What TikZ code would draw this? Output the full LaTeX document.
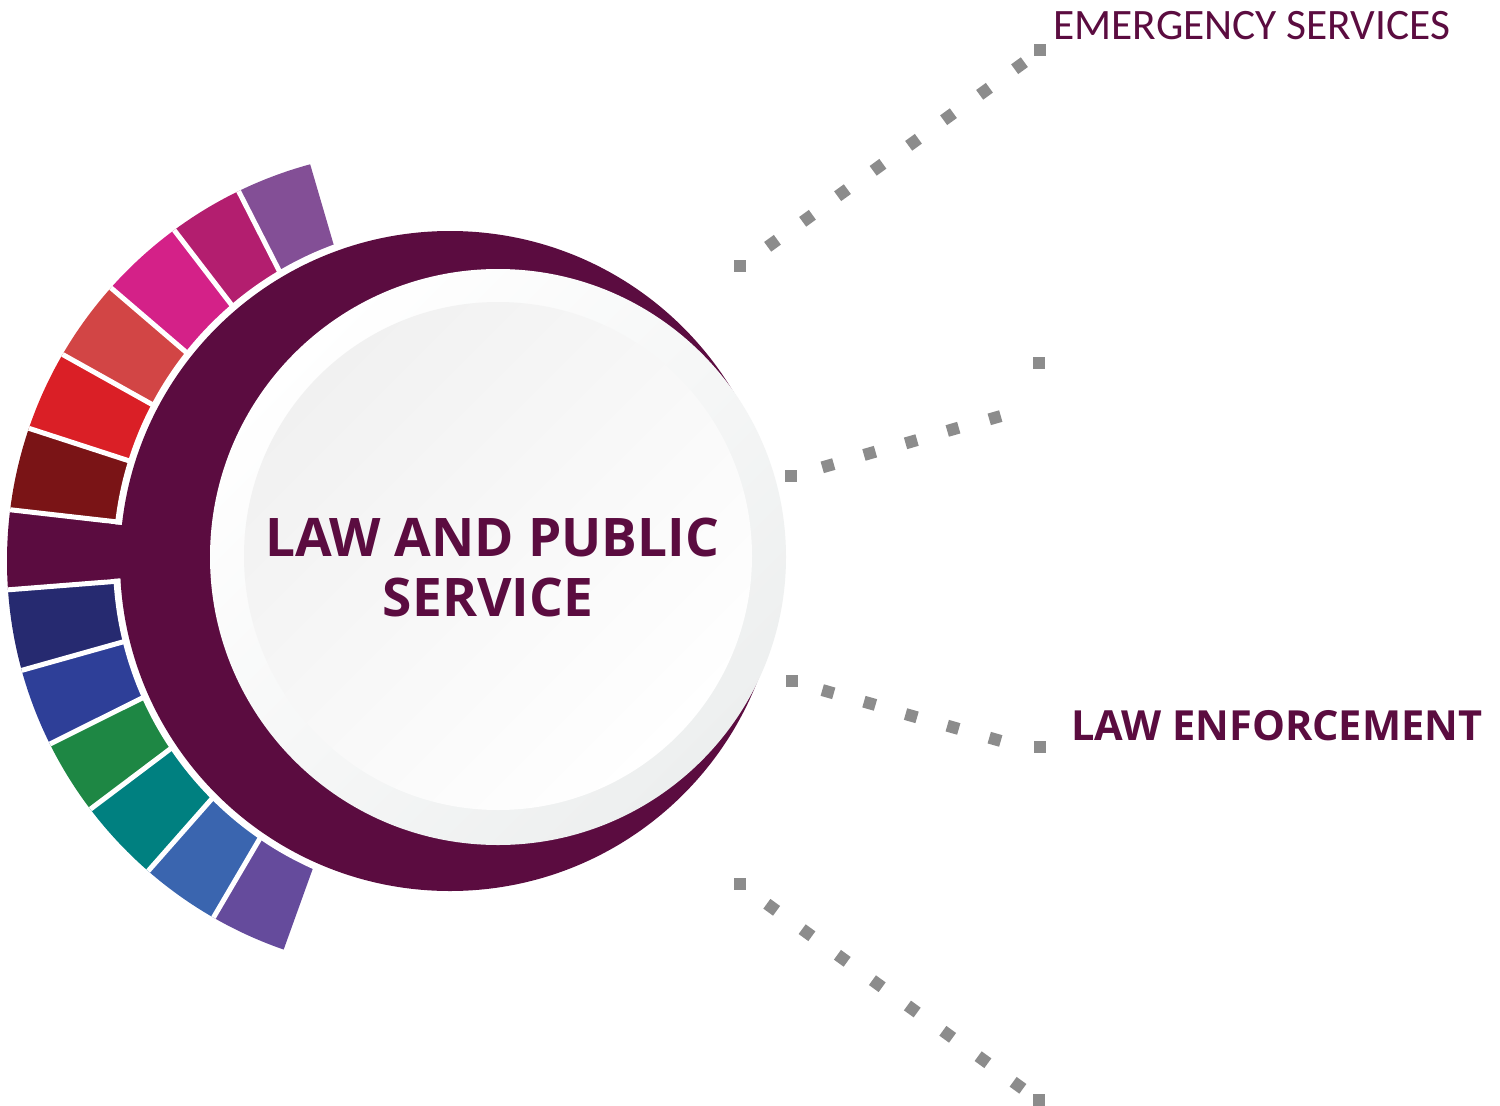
\documentclass[tikz,border=0pt]{standalone}
\usepackage{fontspec}
\newfontfamily\osans{Open Sans}
\newfontfamily\carlito{Carlito}
\definecolor{ringc}{HTML}{5B0C40}
\definecolor{segA}{HTML}{834F96}
\definecolor{segB}{HTML}{B31E6F}
\definecolor{segC}{HTML}{D42188}
\definecolor{segD}{HTML}{D24545}
\definecolor{segE}{HTML}{DA1F26}
\definecolor{segF}{HTML}{7A1416}
\definecolor{segH}{HTML}{262A70}
\definecolor{segI}{HTML}{2E3F98}
\definecolor{segJ}{HTML}{1E8744}
\definecolor{segK}{HTML}{008080}
\definecolor{segL}{HTML}{3A65AF}
\definecolor{segM}{HTML}{654B9C}
\definecolor{dotgray}{HTML}{8C8C8C}
\definecolor{diskgray}{HTML}{EDEFEF}
\definecolor{innergray}{HTML}{F1F1F1}
\begin{document}
\begin{tikzpicture}[x=1pt,y=1pt,
  dotsq/.style={rectangle, fill=dotgray, minimum size=12pt, inner sep=0pt, outer sep=0pt},
  txt/.style={inner sep=0pt, outer sep=0pt, text=ringc}]
\useasboundingbox (0,0) rectangle (1500,-1106);
\coordinate (O) at (425,-557);
\coordinate (Cout) at (418,-561);
\coordinate (C1) at (450,-561);
\coordinate (C2) at (498,-557);
\coordinate (C3) at (498,-556);
% coloured segments
\begin{scope}
  \clip (Cout) circle[radius=411];
  \foreach \a/\b/\c in {106.3/117/segA, 117/127.5/segB, 127.5/139.4/segC,
      139.4/150.8/segD, 150.8/162/segE, 162/173.5/segF, 173.5/184.5/ringc,
      184.5/195.7/segH, 195.7/206.5/segI, 206.5/217/segJ, 217/228.6/segK,
      228.6/239.6/segL, 239.6/250.2/segM}
    \fill[\c] (O) -- ++(\a:520) arc[start angle=\a, end angle=\b, radius=520] -- cycle;
  \foreach \a in {117,127.5,139.4,150.8,162,173.5,184.5,195.7,206.5,217,228.6,239.6}
    \draw[white, line width=5pt] (O) -- ++(\a:520);
\end{scope}
% purple ring
\fill[white] (C1) circle[radius=337];
\fill[ringc] (C1) circle[radius=330];
\begin{scope}
  \clip (C1) circle[radius=345];
  \fill[ringc] (O) -- ++(174:520) arc[start angle=174, end angle=184, radius=520] -- cycle;
\end{scope}
% central discs
\shade[top color=white, bottom color=diskgray, shading angle=45] (C2) circle[radius=288];
\shade[top color=innergray, bottom color=white, shading angle=45] (C3) circle[radius=254];
% centre text
\node[txt, font=\osans\bfseries\fontsize{53.2}{60}\selectfont, anchor=base] (title1) at (492,-556.7) {LAW AND PUBLIC};
\node[txt, font=\osans\bfseries\fontsize{53.2}{60}\selectfont, anchor=base] (title2) at (488,-616) {SERVICE};
% dotted line 1
\node[dotsq] (a0) at (740,-266) {};
\foreach \x/\y [count=\i] in {772.5/243.3, 807.5/218.3, 842.5/192.7, 878/167.3, 913.5/142.3, 948.5/116.7, 984.5/91.3, 1019.5/65.7}
  \node[dotsq, rotate=36] (a\i) at (\x,-\y) {};
\node[dotsq] (a9) at (1040,-50) {};
% dotted line 2
\node[dotsq] (b0) at (791,-476) {};
\foreach \x/\y [count=\i] in {828/465.7, 869.7/453.3, 911.3/441.7, 953/429.3, 995/417.7}
  \node[dotsq, rotate=16] (b\i) at (\x,-\y) {};
\node[dotsq] (b6) at (1039,-362.7) {};
% dotted line 3
\node[dotsq] (c0) at (792,-680.7) {};
\foreach \x/\y [count=\i] in {828/691.7, 869.7/703.3, 911.3/715.7, 953/727.3, 995/739.3}
  \node[dotsq, rotate=-16] (c\i) at (\x,-\y) {};
\node[dotsq] (c6) at (1040,-746.7) {};
% dotted line 4
\node[dotsq] (d0) at (740.3,-884.3) {};
\foreach \x/\y [count=\i] in {771.7/907.3, 807/932.7, 842.3/958.3, 877.3/983.7, 912.3/1009, 947.7/1034.3, 983/1059.7, 1018/1085.3}
  \node[dotsq, rotate=-36] (d\i) at (\x,-\y) {};
\node[dotsq] (d9) at (1038.7,-1100) {};
% labels
\node[txt, font=\carlito\fontsize{43.4}{48}\selectfont, anchor=base west] (emerg) at (1053.5,-39) {EMERGENCY SERVICES};
\node[txt, font=\osans\bfseries\fontsize{41.5}{48}\selectfont, anchor=base west] (lawenf) at (1071,-740) {LAW ENFORCEMENT};
\end{tikzpicture}
\end{document}
